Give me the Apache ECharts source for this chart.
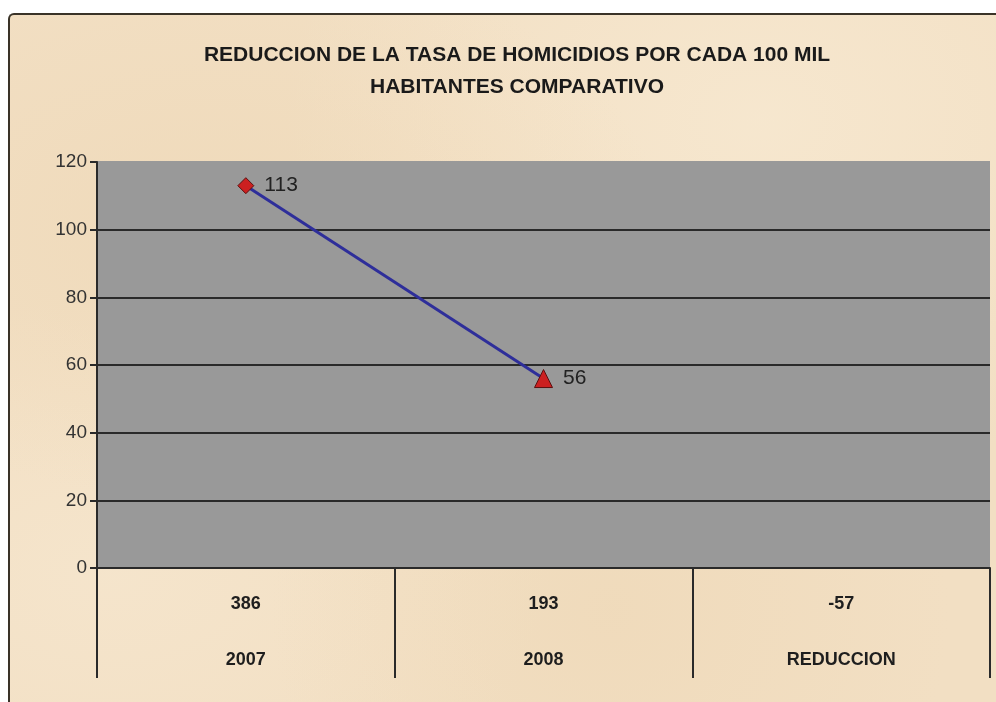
<!DOCTYPE html>
<html>
<head>
<meta charset="utf-8">
<script src="https://cdn.jsdelivr.net/npm/echarts@6/dist/echarts.min.js"></script>
<style>
  html, body { margin: 0; padding: 0; background: #ffffff; }
  #paper {
    position: absolute; left: 8px; top: 13px; width: 1000px; height: 700px;
    border-left: 2px solid #3a3328; border-top: 2px solid #3a3328;
    border-top-left-radius: 6px;
    background-color: #f2dfc3;
    background-image:
      radial-gradient(ellipse at 20% 30%, rgba(236,212,176,0.45), rgba(0,0,0,0) 40%),
      radial-gradient(ellipse at 75% 15%, rgba(249,236,214,0.6), rgba(0,0,0,0) 45%),
      radial-gradient(ellipse at 60% 85%, rgba(236,212,176,0.4), rgba(0,0,0,0) 40%),
      radial-gradient(ellipse at 10% 80%, rgba(248,234,212,0.5), rgba(0,0,0,0) 35%);
  }
  #chart { position: absolute; left: 0; top: 0; width: 996px; height: 702px; }
</style>
</head>
<body>
<div id="paper"></div>
<div id="chart"></div>
<script>
const titleLines = ['REDUCCION DE LA TASA DE HOMICIDIOS POR CADA 100 MIL', 'HABITANTES COMPARATIVO'];
const categories = ['2007', '2008', 'REDUCCION'];
const tableRow = [386, 193, -57];
const tasa = [113, 56, null];
const yTicks = [0, 20, 40, 60, 80, 100, 120];

const chart = echarts.init(document.getElementById('chart'));

const option = {
  backgroundColor: 'transparent',
  animation: false,
  title: {
    text: titleLines.join('\n'),
    left: 512,
    top: 34,
    textAlign: 'center',
    textStyle: {
      fontFamily: '"Liberation Sans", Arial, sans-serif',
      fontWeight: 'bold',
      fontSize: 21,
      lineHeight: 32,
      color: '#1a1a1a'
    }
  },
  grid: {
    left: 97,
    right: 6,
    top: 162,
    bottom: 134,
    show: true,
    backgroundColor: '#999999',
    borderWidth: 0
  },
  xAxis: {
    type: 'category',
    data: categories,
    boundaryGap: true,
    axisLine: { lineStyle: { color: '#2a2a2a', width: 2 } },
    axisTick: { show: true, interval: 0, length: 110, lineStyle: { color: '#2a2a2a', width: 2 } },
    axisLabel: {
      interval: 0,
      margin: 8,
      formatter: function (value, idx) {
        return '{a|' + tableRow[idx] + '}\n{b|' + value + '}';
      },
      rich: {
        a: { fontFamily: '"Liberation Sans", Arial, sans-serif', fontWeight: 'bold', fontSize: 18, lineHeight: 56, color: '#1e1e1e' },
        b: { fontFamily: '"Liberation Sans", Arial, sans-serif', fontWeight: 'bold', fontSize: 18, lineHeight: 56, color: '#1e1e1e' }
      }
    }
  },
  yAxis: {
    type: 'value',
    min: yTicks[0],
    max: yTicks[yTicks.length - 1],
    interval: 20,
    axisLine: { show: true, lineStyle: { color: '#2a2a2a', width: 2 } },
    axisTick: { show: true, length: 7, lineStyle: { color: '#2a2a2a', width: 2 } },
    axisLabel: {
      margin: 10,
      fontFamily: '"Liberation Sans", Arial, sans-serif',
      fontSize: 19,
      color: '#333333'
    },
    splitLine: {
      show: true,
      lineStyle: { color: ['#2a2a2a', '#2a2a2a', '#2a2a2a', '#2a2a2a', '#2a2a2a', '#2a2a2a', '#999999'], width: 2 }
    }
  },
  series: [
    {
      type: 'line',
      data: tasa,
      lineStyle: { color: '#2e2e9a', width: 3 },
      itemStyle: { color: '#cc2020', borderColor: '#5a1010', borderWidth: 1 },
      symbol: function (val, params) {
        return params.dataIndex === 0 ? 'diamond' : 'triangle';
      },
      symbolSize: function (val, params) {
        return params.dataIndex === 0 ? 16 : 18;
      },
      label: {
        show: true,
        position: 'right',
        distance: 10,
        fontFamily: '"Liberation Sans", Arial, sans-serif',
        fontSize: 21,
        color: '#222222'
      },
      z: 5
    }
  ]
};

chart.setOption(option);
</script>
</body>
</html>
